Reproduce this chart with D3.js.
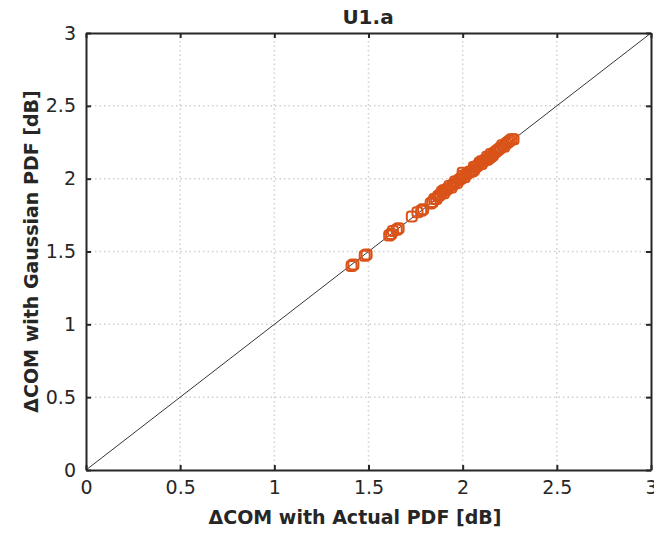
<!DOCTYPE html>
<html>
<head>
<meta charset="utf-8">
<script src="https://cdn.jsdelivr.net/npm/d3@7"></script>
<style>
  body { margin: 0; background: #fff; }
  svg { display: block; }
  text { font-family: "DejaVu Sans", "Liberation Sans", sans-serif; fill: #262626; }
</style>
</head>
<body>
<svg width="654" height="533"></svg>
<script>
// data
const actualPdf = [1.41, 1.42, 1.48, 1.49, 1.61, 1.62, 1.63, 1.65, 1.66, 1.73, 1.76, 1.78, 1.79,
  1.83, 1.84, 1.85, 1.86, 1.87, 1.88, 1.89, 1.90, 1.90, 1.91, 1.92, 1.93, 1.94, 1.95, 1.96, 1.97,
  1.98, 1.99, 2.00, 2.00, 2.01, 2.02, 2.03, 2.04, 2.05, 2.06, 2.06, 2.07, 2.08, 2.09, 2.10, 2.10,
  2.11, 2.12, 2.13, 2.13, 2.14, 2.15, 2.15, 2.16, 2.17, 2.18, 2.19, 2.20, 2.21, 2.22, 2.23, 2.24,
  2.25, 2.26, 2.27];
const gaussianPdf = [1.40, 1.41, 1.47, 1.48, 1.61, 1.62, 1.64, 1.65, 1.66, 1.74, 1.77, 1.78, 1.79,
  1.83, 1.84, 1.86, 1.86, 1.88, 1.89, 1.91, 1.90, 1.92, 1.92, 1.93, 1.95, 1.94, 1.96, 1.98, 1.97,
  1.99, 2.00, 2.04, 2.02, 2.01, 2.03, 2.04, 2.05, 2.05, 2.08, 2.06, 2.08, 2.09, 2.11, 2.10, 2.12,
  2.12, 2.13, 2.15, 2.13, 2.14, 2.17, 2.15, 2.16, 2.18, 2.19, 2.20, 2.21, 2.23, 2.22, 2.24, 2.25,
  2.26, 2.27, 2.27];
const xTicks = [0, 0.5, 1, 1.5, 2, 2.5, 3];
const yTicks = [0, 0.5, 1, 1.5, 2, 2.5, 3];
const identityLine = [[0, 0], [3, 3]];

const MARGINS = { left: 86, right: 3, top: 33, bottom: 63 };
const WIDTH = 654, HEIGHT = 533;
const AXIS_COLOR = '#262626';
const MARKER_COLOR = '#D95319';

const svg = d3.select('svg');
const x = d3.scaleLinear().domain([0, 3]).range([MARGINS.left, WIDTH - MARGINS.right]);
const y = d3.scaleLinear().domain([0, 3]).range([HEIGHT - MARGINS.bottom, MARGINS.top]);

// grid
svg.append('g').selectAll('line.gx')
  .data(xTicks.slice(1, -1)).enter().append('line')
  .attr('x1', d => x(d)).attr('x2', d => x(d))
  .attr('y1', y(0)).attr('y2', y(3))
  .style('stroke', '#d0d0d0').style('stroke-width', 1.5).style('stroke-dasharray', '1.5,3');
svg.append('g').selectAll('line.gy')
  .data(yTicks.slice(1, -1)).enter().append('line')
  .attr('y1', d => y(d)).attr('y2', d => y(d))
  .attr('x1', x(0)).attr('x2', x(3))
  .style('stroke', '#d0d0d0').style('stroke-width', 1.5).style('stroke-dasharray', '1.5,3');

// identity line
svg.append('path')
  .datum(identityLine)
  .attr('d', d3.line().x(d => x(d[0])).y(d => y(d[1])))
  .style('stroke', '#000').style('stroke-width', 0.8).style('fill', 'none');

// markers (MATLAB-style small circles look boxy, so use rounded squares)
const m = 5;
svg.append('g').selectAll('rect')
  .data(actualPdf.map((v, i) => [v, gaussianPdf[i]]))
  .enter().append('rect')
  .attr('x', d => x(d[0]) - m).attr('y', d => y(d[1]) - m)
  .attr('width', 2 * m).attr('height', 2 * m)
  .attr('rx', 3).attr('ry', 3)
  .style('fill', 'none').style('stroke', MARKER_COLOR).style('stroke-width', 2);

// axes
const tickLen = 5;
const axisBottom = d3.axisBottom(x).tickValues(xTicks).tickFormat(d3.format('')).tickSizeInner(-tickLen).tickSizeOuter(0).tickPadding(11);
const axisTop = d3.axisTop(x).tickValues(xTicks).tickFormat('').tickSizeInner(-tickLen).tickSizeOuter(0);
const axisLeft = d3.axisLeft(y).tickValues(yTicks).tickFormat(d3.format('')).tickSizeInner(-tickLen).tickSizeOuter(0).tickPadding(10);
const axisRight = d3.axisRight(y).tickValues(yTicks).tickFormat('').tickSizeInner(-tickLen).tickSizeOuter(0);

function styleAxis(g) {
  g.select('.domain').style('stroke', AXIS_COLOR).style('stroke-width', 2);
  g.selectAll('.tick line').style('stroke', AXIS_COLOR).style('stroke-width', 2);
  g.selectAll('.tick text')
    .style('font-size', '19px')
    .style('fill', AXIS_COLOR)
    .style('font-family', '"DejaVu Sans", sans-serif');
}

svg.append('g').attr('transform', `translate(0,${y(0)})`).call(axisBottom).call(styleAxis);
svg.append('g').attr('transform', `translate(0,${y(3)})`).call(axisTop).call(styleAxis);
svg.append('g').attr('transform', `translate(${x(0)},0)`).call(axisLeft).call(styleAxis);
svg.append('g').attr('transform', `translate(${x(3)},0)`).call(axisRight).call(styleAxis);

// title and labels
svg.append('text')
  .attr('x', 368).attr('y', 24)
  .attr('text-anchor', 'middle')
  .style('font-size', '20px').style('font-weight', 'bold')
  .text('U1.a');

svg.append('text')
  .attr('x', 355).attr('y', 524)
  .attr('text-anchor', 'middle')
  .style('font-size', '19px').style('font-weight', 'bold')
  .text('\u0394COM with Actual PDF [dB]');

svg.append('text')
  .attr('transform', `translate(38,${(y(0) + y(3)) / 2}) rotate(-90)`)
  .attr('text-anchor', 'middle')
  .style('font-size', '19px').style('font-weight', 'bold')
  .text('\u0394COM with Gaussian PDF [dB]');
</script>
</body>
</html>
